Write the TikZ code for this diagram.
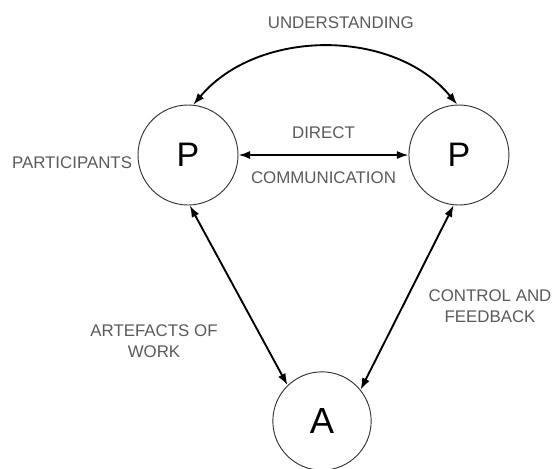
\documentclass[tikz,border=0pt]{standalone}
\usepackage{fontspec}
\setmainfont{Liberation Sans}
\usetikzlibrary{positioning, arrows.meta}
\definecolor{labelgray}{HTML}{5A5A5A}
\definecolor{ringgray}{HTML}{333333}

\begin{document}
\begin{tikzpicture}[x=0.03cm, y=-0.03cm, font=\fontsize{14.4}{18}\selectfont]
\useasboundingbox (0,0) rectangle (553,468);

% Participants and artefact
\node[draw=ringgray, circle, line width=0.8pt, minimum size=3cm, font=\fontsize{29}{32}\selectfont] (pl) at (188,155) {P};
\node[draw=ringgray, circle, line width=0.8pt, minimum size=3cm, font=\fontsize{29}{32}\selectfont, right=5.1cm of pl] (pr) {P};
\node[draw=ringgray, circle, line width=0.8pt, minimum size=2.95cm, font=\fontsize{31}{34}\selectfont] (art) at (322,421) {A};

% Labels
\node[labelgray] (part) at (72,163) {PARTICIPANTS};
\node[labelgray, align=center] (work) at (154,341) {ARTEFACTS OF\\WORK};
\node[labelgray, align=center] (ctrl) at (490,306) {CONTROL AND\\FEEDBACK};

% Arrows
\draw[{Latex[length=10pt,width=7pt]}-{Latex[length=10pt,width=7pt]}, line width=1.6pt] (pl.84) .. controls (258,28) and (394,28) .. node[labelgray, yshift=0.72cm, xshift=0.45cm] (und) {UNDERSTANDING} (pr.92);
\draw[{Latex[length=10pt,width=7pt]}-{Latex[length=10pt,width=7pt]}, line width=1.6pt] (pl) -- node[labelgray, yshift=0.68cm] (dir) {DIRECT} node[labelgray, yshift=-0.67cm] (comm) {COMMUNICATION} (pr);
\draw[{Latex[length=10pt,width=7pt]}-{Latex[length=10pt,width=7pt]}, line width=1.6pt] (pl.-88) -- (art.134);
\draw[{Latex[length=10pt,width=7pt]}-{Latex[length=10pt,width=7pt]}, line width=1.6pt] (pr.-96) -- (art.39);

\end{tikzpicture}
\end{document}
